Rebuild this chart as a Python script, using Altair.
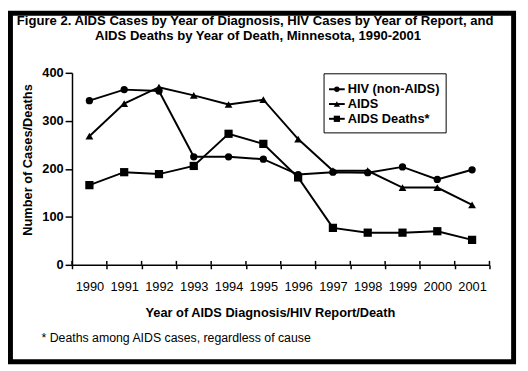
import altair as alt
import pandas as pd

years = list(range(1990, 2002))
hiv = [342, 365, 362, 225, 225, 220, 188, 193, 192, 204, 178, 198]
aids = [268, 336, 370, 353, 334, 344, 262, 196, 196, 161, 161, 125]
deaths = [166, 193, 189, 206, 273, 252, 182, 77, 67, 67, 70, 52]
series = ["HIV (non-AIDS)", "AIDS", "AIDS Deaths*"]
shapes = ["circle", "triangle-up", "square"]
sizes = [55, 70, 75]
y_ticks = [0, 100, 200, 300, 400]

title_lines = [
    "Figure 2. AIDS Cases by Year of Diagnosis, HIV Cases by Year of Report, and",
    "AIDS Deaths by Year of Death, Minnesota, 1990-2001",
]
x_title = "Year of AIDS Diagnosis/HIV Report/Death"
y_title = "Number of Cases/Deaths"
footnote = "* Deaths among AIDS cases, regardless of cause"

FONT = "Liberation Sans"

rows = []
for name, vals in zip(series, [hiv, aids, deaths]):
    for yr, v in zip(years, vals):
        rows.append({"Year": yr, "Value": v, "Series": name})
df = pd.DataFrame(rows)

xenc = alt.X(
    "Year:O",
    scale=alt.Scale(type="band", paddingInner=0, paddingOuter=0),
    axis=alt.Axis(
        title=x_title, labelAngle=0, tickBand="extent", tickSize=4,
        labelPadding=12, labelFontSize=13, labelFontWeight="normal",
        titleX=201, titleY=48, titleBaseline="middle",
        titleFontSize=13, titleFontWeight="bold",
    ),
)
yenc = alt.Y(
    "Value:Q",
    scale=alt.Scale(domain=[0, 400], nice=False, zero=True),
    axis=alt.Axis(
        values=y_ticks, title=y_title, grid=False, tickSize=7, labelPadding=2,
        labelFontSize=13, labelFontWeight="bold",
        titleX=-45, titleY=88, titleBaseline="middle", titleAlign="center",
        titleFontSize=13, titleFontWeight="bold",
    ),
)

base = alt.Chart(df)
lines = base.mark_line(color="black", strokeWidth=2).encode(
    x=xenc, y=yenc, detail="Series:N"
)
points = base.mark_point(filled=True, color="black", opacity=1).encode(
    x="Year:O", y="Value:Q",
    shape=alt.Shape("Series:N", scale=alt.Scale(domain=series, range=shapes), legend=None),
    size=alt.Size("Series:N", scale=alt.Scale(domain=series, range=sizes), legend=None),
)

tick_df = pd.DataFrame({"Year": years})
inner_ticks = alt.Chart(tick_df).mark_rule(color="black", strokeWidth=1.5).encode(
    x=alt.X("Year:O", bandPosition=0), y=alt.value(195), y2=alt.value(191)
)
end_tick = alt.Chart(pd.DataFrame({"Year": [years[-1]]})).mark_rule(color="black", strokeWidth=1.5).encode(
    x=alt.X("Year:O", bandPosition=1), y=alt.value(195), y2=alt.value(191)
)

one = pd.DataFrame({"a": [0]})


def text_layer(txt, x, y, **kw):
    return alt.Chart(pd.DataFrame({"t": [txt]})).mark_text(font=FONT, color="black", **kw).encode(
        x=alt.value(x), y=alt.value(y), text="t:N"
    )


layers = [lines, points, inner_ticks, end_tick]

# titles
layers.append(text_layer(title_lines[0], 186, -49, fontSize=13.3, fontWeight="bold", align="center", baseline="alphabetic"))
layers.append(text_layer(title_lines[1], 189, -33, fontSize=13.3, fontWeight="bold", align="center", baseline="alphabetic"))
layers.append(text_layer(footnote, -31, 273, fontSize=12.5, align="left", baseline="alphabetic"))

# legend box
layers.append(
    alt.Chart(one).mark_rect(fill="white", stroke="black", strokeWidth=1).encode(
        x=alt.value(256), x2=alt.value(380), y=alt.value(1), y2=alt.value(61)
    )
)
leg_y = [16.7, 31.7, 46.7]
leg_sizes = [30, 40, 40]
for name, shp, ly, sz in zip(series, shapes, leg_y, leg_sizes):
    layers.append(
        alt.Chart(one).mark_rule(color="black", strokeWidth=2).encode(
            x=alt.value(261), x2=alt.value(277), y=alt.value(ly)
        )
    )
    layers.append(
        alt.Chart(one).mark_point(filled=True, color="black", opacity=1, shape=shp, size=sz).encode(
            x=alt.value(269), y=alt.value(ly)
        )
    )
    layers.append(text_layer(name, 280, ly, fontSize=13, fontWeight="bold", align="left", baseline="middle"))

# outer frame
layers.append(
    alt.Chart(one).mark_rect(fill=None, stroke="black", strokeWidth=5).encode(
        x=alt.value(-62.5), x2=alt.value(448.5), y=alt.value(-60.5), y2=alt.value(293.5)
    )
)

chart = alt.layer(*layers).properties(
    width=424, height=195,
    autosize=alt.AutoSizeParams(type="none"),
    padding={"left": 65, "top": 63, "right": 31, "bottom": 105},
    background="white",
).configure_view(stroke=None).configure_axis(
    domainColor="black", domainWidth=1.5, tickColor="black", tickWidth=1.5,
    labelColor="black", titleColor="black", labelFont=FONT, titleFont=FONT,
)

chart.save("out.html", embed_options={"renderer": "svg", "actions": False})
